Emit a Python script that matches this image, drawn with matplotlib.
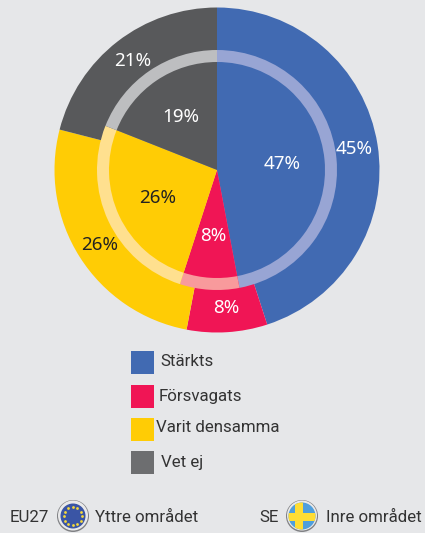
import numpy as np
from matplotlib import pyplot as plt
from matplotlib.patches import Circle, Rectangle

categories = ["Stärkts", "Försvagats", "Varit densamma", "Vet ej"]
eu27 = [45, 8, 26, 21]
se = [47, 8, 26, 19]

colors = ["#416AB2", "#F01555", "#FFCC05", "#58595B"]
ring_colors = ["#98A5D4", "#F89A9C", "#FFE08F", "#BDBEC0"]
legend_colors = ["#416AB2", "#F01555", "#FFCC05", "#6D6E70"]
legend_y = [362, 396, 429, 462]
legend_x = [160, 159, 156, 161]
legend_text_y = [361, 396, 427, 462]

bg = "#E6E7E9"
W, H = 425, 533
cx, cy, R = 217, 170, 162.5

plt.rcParams["font.family"] = ["Roboto", "Liberation Sans", "DejaVu Sans"]
fig = plt.figure(figsize=(W / 100, H / 100), dpi=100, facecolor=bg)

# pie axes: one data unit is the outer radius
ax = fig.add_axes([(cx - R) / W, 1 - (cy + R) / H, 2 * R / W, 2 * R / H])
ax.pie(eu27, colors=colors, radius=1, startangle=90, counterclock=False)
ax.pie(se, colors=ring_colors, radius=120 / R, startangle=90, counterclock=False)
ax.pie(se, colors=colors, radius=108 / R, startangle=90, counterclock=False)
ax.set_xlim(-1, 1)
ax.set_ylim(-1, 1)
ax.axis("off")

# overlay in pixel coordinates for the texts, legend and badges
ov = fig.add_axes([0, 0, 1, 1])
ov.set_xlim(0, W)
ov.set_ylim(H, 0)
ov.axis("off")
ov.patch.set_alpha(0)

pie_font = ["Noto Sans", "DejaVu Sans"]
outer_pos = [(354, 149), (226, 308), (100, 245), (133, 61)]
inner_pos = [(282, 164), (213, 236), (158, 198), (181, 117)]
text_cols = ["white", "white", "#222222", "white"]
for i in range(4):
    ov.text(outer_pos[i][0], outer_pos[i][1], str(eu27[i]) + "%", color=text_cols[i],
            fontsize=13.5, ha="center", va="center", family=pie_font)
    ov.text(inner_pos[i][0], inner_pos[i][1], str(se[i]) + "%", color=text_cols[i],
            fontsize=13.5, ha="center", va="center", family=pie_font)

for i in range(4):
    ov.add_patch(Rectangle((131, legend_y[i] - 11.5), 23, 23, color=legend_colors[i], lw=0))
    ov.text(legend_x[i], legend_text_y[i], categories[i], color="#333333", fontsize=12.2,
            ha="left", va="center")


def badge(x, y):
    ov.add_patch(Circle((x, y), 16, color="#808184", lw=0))
    ov.add_patch(Circle((x, y - 0.5), 15, color="#E9E9EA", lw=0))


# EU badge
badge(73, 516)
disc = Circle((73, 516), 12.5, color="#3A55A5", lw=0)
ov.add_patch(disc)
angles = np.deg2rad(np.arange(0, 360, 30))
ov.scatter(73 + 9 * np.cos(angles), 516 + 9 * np.sin(angles), s=4, color="#F5D93A", lw=0, zorder=3)

# SE badge
badge(302, 516)
disc = Circle((302, 516), 13.5, color="#4F9FDC", lw=0)
ov.add_patch(disc)
for r in [Rectangle((286, 512.5), 32, 8, color="#FFDD33", lw=0),
          Rectangle((295, 500), 8, 34, color="#FFDD33", lw=0)]:
    ov.add_patch(r)
    r.set_clip_path(disc)

ov.text(10, 518, "EU27", color="#333333", fontsize=12.2, ha="left", va="center")
ov.text(95, 518, "Yttre området", color="#333333", fontsize=12.2, ha="left", va="center")
ov.text(259, 518, "SE", color="#333333", fontsize=12.2, ha="left", va="center")
ov.text(326, 518, "Inre området", color="#333333", fontsize=12.2, ha="left", va="center")

fig.savefig("out.png", dpi=100, facecolor=bg)
